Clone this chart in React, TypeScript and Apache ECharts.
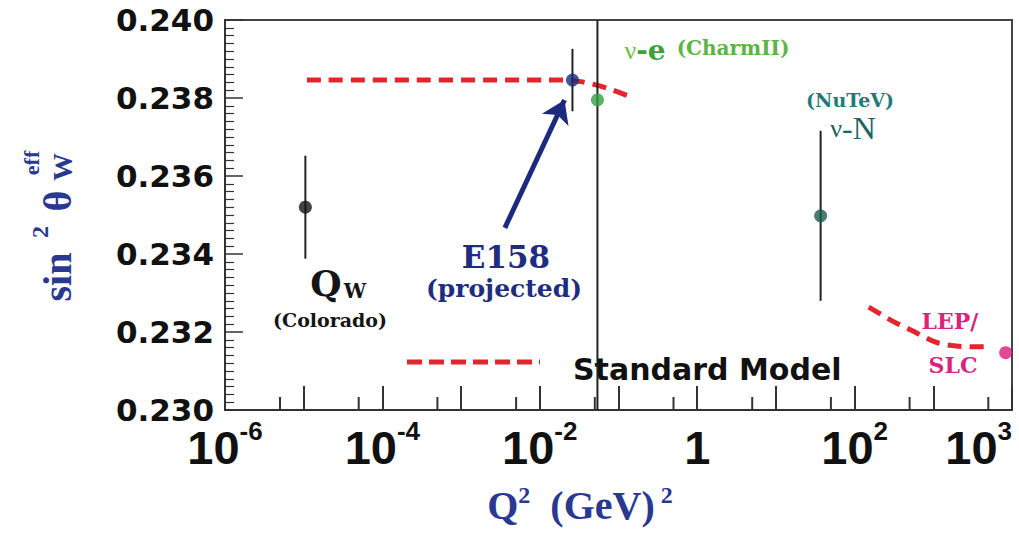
import React, { useEffect, useRef } from "react";
import * as echarts from "echarts";

// ---- data ----
const xTickExponents = [-6, -4, -2, 0, 2, 4];
const xTickBase = ["10", "10", "10", "1", "10", "10"];
const xTickSup = ["-6", "-4", "-2", "", "2", "3"];
const xMinorTickQ2 = [5e-6, 5e-5, 5e-4, 5e-3, 5e-2, 5e-1, 5, 50, 500, 5000];

const pointNames = ["Qw (Colorado)", "E158 (projected)", "ν-e (CharmII)", "ν-N (NuTeV)", "LEP/SLC"];
const pointQ2 = [1.05e-5, 0.026, 0.054, 37, 8300];
const pointValue = [0.2352, 0.23846, 0.23795, 0.23498, 0.23147];
const pointError = [0.00132, 0.0008, 0.0083, 0.00218, 0];
const pointColors = ["#151515", "#1c2a7e", "#2fa043", "#1d5d4c", "#d81b7a"];

const smLowQ2 = [1.1e-5, 0.02, 0.033, 0.07, 0.15];
const smLowValue = [0.23846, 0.23846, 0.23842, 0.23826, 0.23801];
const smHighQ2 = [151, 316, 519, 1072, 1950, 4370];
const smHighValue = [0.23264, 0.23226, 0.23205, 0.23174, 0.23164, 0.23162];

const arrowFrom = [0.0036, 0.23467];
const arrowTo = [0.0206, 0.23795];

const lg = (v: number) => Math.log10(v);

const navy = "#2a3990";
const red = "#e3262d";
const serif = "'Liberation Serif', serif";
const wideSerif = "'DejaVu Serif', serif";
const sans = "'DejaVu Sans', sans-serif";

function buildOption(): any {
  const t = (x: number, y: number, text: string, size: number, fill: string, extra: any = {}) => ({
    type: "text",
    x,
    y,
    silent: true,
    ...extra,
    style: {
      text,
      fill,
      fontSize: size,
      fontFamily: wideSerif,
      fontWeight: "bold",
      align: "center",
      verticalAlign: "middle",
      ...(extra.style || {}),
    },
  });
  const rot = { rotation: Math.PI / 2 };

  return {
    animation: false,
    backgroundColor: "#ffffff",
    grid: {
      left: 225,
      top: 20,
      right: 7,
      bottom: 127,
      show: true,
      borderColor: "#444",
      borderWidth: 2,
      backgroundColor: "transparent",
    },
    xAxis: {
      type: "value",
      min: -6,
      max: 4,
      interval: 1,
      axisLine: { show: true, onZero: false, lineStyle: { color: "#333", width: 2 } },
      axisTick: { show: true, inside: true, length: 24, lineStyle: { color: "#333", width: 2 } },
      splitLine: { show: false },
      axisLabel: {
        margin: 8,
        alignMaxLabel: "right",
        formatter: (v: number) => {
          const r = Math.round(v);
          if (Math.abs(v - r) > 1e-6) return "";
          const i = xTickExponents.indexOf(r);
          if (i < 0) return "";
          return xTickSup[i] ? `{b|${xTickBase[i]}}{s|${xTickSup[i]}}` : `{b|${xTickBase[i]}}`;
        },
        rich: {
          b: {
            fontSize: 47,
            fontWeight: "bold",
            fontFamily: "'Liberation Sans', sans-serif",
            color: "#111",
            lineHeight: 47,
            padding: [12, 0, 0, 0],
          },
          s: {
            fontSize: 26,
            fontWeight: "bold",
            fontFamily: "'Liberation Sans', sans-serif",
            color: "#111",
            lineHeight: 26,
            verticalAlign: "top",
          },
        },
      },
    },
    yAxis: {
      type: "value",
      min: 0.23,
      max: 0.24,
      interval: 0.002,
      axisLine: { show: true, onZero: false, lineStyle: { color: "#333", width: 2 } },
      axisTick: { show: true, inside: true, length: 18, lineStyle: { color: "#333", width: 1.5 } },
      minorTick: { show: true, splitNumber: 10, length: 9, lineStyle: { color: "#333", width: 1.2 } },
      splitLine: { show: false },
      axisLabel: {
        margin: 11,
        formatter: (v: number) => v.toFixed(3),
        fontFamily: sans,
        fontWeight: "bold",
        fontSize: 31,
        lineHeight: 14,
        color: "#111",
      },
    },
    series: [
      {
        name: "SM low",
        type: "line",
        data: smLowQ2.map((q, i) => [lg(q), smLowValue[i]]),
        symbol: "none",
        smooth: 0.3,
        silent: true,
        lineStyle: { color: red, width: 5, type: [14, 8], cap: "butt" },
        z: 2,
      },
      {
        name: "SM high",
        type: "line",
        data: smHighQ2.map((q, i) => [lg(q), smHighValue[i]]),
        symbol: "none",
        smooth: 0.3,
        silent: true,
        lineStyle: { color: red, width: 5, type: [14, 8], cap: "butt" },
        z: 2,
      },
      {
        name: "errors",
        type: "custom",
        clip: true,
        silent: true,
        encode: { x: 0, y: [1, 2] },
        data: pointQ2.map((q, i) => [lg(q), pointValue[i] - pointError[i], pointValue[i] + pointError[i]]),
        renderItem: (params: any, api: any) => {
          const lo = api.coord([api.value(0), api.value(1)]);
          const hi = api.coord([api.value(0), api.value(2)]);
          return {
            type: "line",
            shape: { x1: lo[0], y1: lo[1], x2: hi[0], y2: hi[1] },
            style: { stroke: "#222", lineWidth: 2 },
          };
        },
        z: 3,
      },
      {
        name: "minor ticks",
        type: "custom",
        silent: true,
        data: xMinorTickQ2.map((q) => [lg(q), 0.23]),
        renderItem: (params: any, api: any) => {
          const p = api.coord([api.value(0), api.value(1)]);
          return {
            type: "line",
            shape: { x1: p[0], y1: p[1], x2: p[0], y2: p[1] - 13 },
            style: { stroke: "#333", lineWidth: 2 },
          };
        },
        z: 3,
      },
      {
        name: "measurements",
        type: "scatter",
        symbol: "circle",
        symbolSize: 13,
        silent: true,
        data: pointQ2.map((q, i) => ({
          name: pointNames[i],
          value: [lg(q), pointValue[i]],
          itemStyle: { color: pointColors[i] },
        })),
        z: 5,
      },
      {
        name: "arrow",
        type: "line",
        silent: true,
        symbol: "none",
        data: [],
        markLine: {
          silent: true,
          symbol: ["none", "arrow"],
          symbolSize: 22,
          label: { show: false },
          itemStyle: { color: "#1c2a7e" },
          lineStyle: { color: "#1c2a7e", width: 5, type: "solid" },
          emphasis: { disabled: true },
          data: [
            [
              { coord: [lg(arrowFrom[0]), arrowFrom[1]] },
              { coord: [lg(arrowTo[0]), arrowTo[1]] },
            ],
          ],
        },
        z: 4,
      },
    ],
    graphic: [
      // y axis title  sin^2 θ_W^eff
      t(57, 277, "sin", 40, navy, { ...rot, style: { fontFamily: serif } }),
      t(40, 232, "2", 24, navy, { ...rot, style: { fontFamily: serif } }),
      t(57, 201, "θ", 40, navy, { ...rot, style: { fontFamily: serif } }),
      t(31, 163, "eff", 22, navy, { ...rot, style: { fontFamily: serif } }),
      t(62, 167, "W", 28, navy, { ...rot, style: { fontFamily: serif } }),
      // x axis title
      {
        type: "text",
        x: 580,
        y: 505,
        silent: true,
        style: {
          text: "{a|Q}{s|2}{a|  (GeV)}{s| 2}",
          align: "center",
          verticalAlign: "middle",
          fill: navy,
          rich: {
            a: { fontSize: 40, fontFamily: serif, fontWeight: "bold", fill: navy, color: navy, lineHeight: 44 },
            s: { fontSize: 24, fontFamily: serif, fontWeight: "bold", fill: navy, color: navy, verticalAlign: "top", lineHeight: 24 },
          },
        },
      },
      // annotations
      t(326, 283, "Q", 36, "#151515"),
      t(355, 291, "W", 20, "#151515"),
      t(330, 320, "(Colorado)", 19, "#151515"),
      t(506, 257, "E158", 31, "#1f2d80"),
      t(504, 288, "(projected)", 25, "#1f2d80"),
      {
        type: "text",
        x: 645,
        y: 50,
        silent: true,
        style: {
          text: "{n|ν}{e|-e}",
          align: "center",
          verticalAlign: "middle",
          rich: {
            n: { fontSize: 26, fontFamily: serif, color: "#6abf4b", fill: "#6abf4b" },
            e: { fontSize: 28, fontFamily: wideSerif, fontWeight: "bold", color: "#3fa03a", fill: "#3fa03a" },
          },
        },
      },
      t(733, 48, "(CharmII)", 20, "#5cb544"),
      t(850, 100, "(NuTeV)", 19, "#1f7a78"),
      {
        type: "text",
        x: 853,
        y: 128,
        silent: true,
        style: {
          text: "{n|ν}{e|-N}",
          align: "center",
          verticalAlign: "middle",
          rich: {
            n: { fontSize: 26, fontFamily: serif, color: "#1d6360", fill: "#1d6360" },
            e: { fontSize: 32, fontFamily: serif, color: "#1d6360", fill: "#1d6360" },
          },
        },
      },
      t(950, 321, "LEP/", 22, "#d8247f"),
      t(953, 365, "SLC", 22, "#d8247f"),
      // legend
      {
        type: "line",
        silent: true,
        shape: { x1: 407, y1: 362, x2: 540, y2: 362 },
        style: { stroke: red, lineWidth: 5, lineDash: [15, 7] },
      },
      {
        type: "text",
        x: 573,
        y: 369,
        silent: true,
        style: {
          text: "Standard Model",
          fill: "#111",
          fontSize: 30,
          fontFamily: sans,
          fontWeight: "bold",
          align: "left",
          verticalAlign: "middle",
        },
      },
    ],
  };
}

export default function App() {
  const ref = useRef<HTMLDivElement>(null);
  useEffect(() => {
    if (!ref.current) return;
    const chart = echarts.init(ref.current, null, { renderer: "svg" });
    chart.setOption(buildOption());
    return () => chart.dispose();
  }, []);
  return (
    <div
      ref={ref}
      style={{ position: "fixed", left: 0, top: 0, width: 1019, height: 537, background: "#fff" }}
    />
  );
}
